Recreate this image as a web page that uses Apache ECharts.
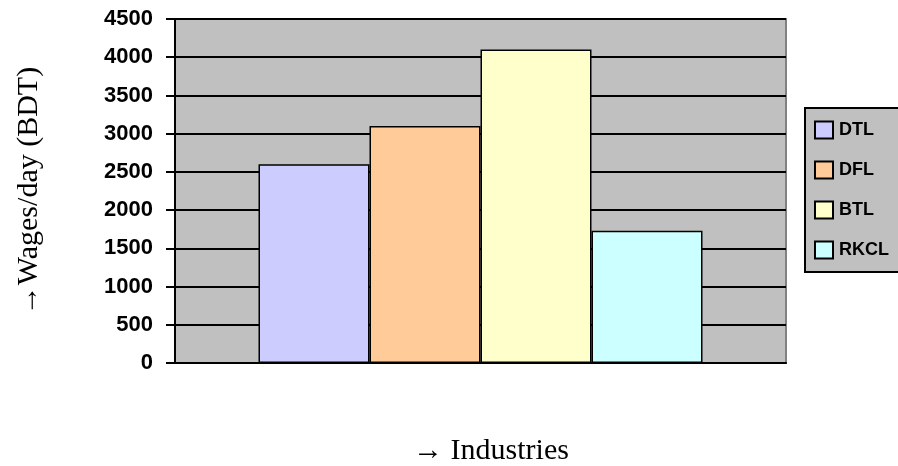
<!DOCTYPE html>
<html lang="en">
<head>
    <meta charset="UTF-8">
    <title>Wages per day</title>
    <style>
        html, body { margin: 0; padding: 0; background: #fff; }
        #main { width: 898px; height: 466px; }
    </style>
</head>
<body>
    <div id="main"></div>
    <script src="https://cdn.jsdelivr.net/npm/echarts@6/dist/echarts.min.js"></script>
    <script>
        // data
        var categories = ['Industries'];
        var seriesNames = ['DTL', 'DFL', 'BTL', 'RKCL'];
        var wages = [2600, 3100, 4100, 1730];
        var colors = ['#CCCCFF', '#FFCC99', '#FFFFCC', '#CCFFFF'];

        var myChart = echarts.init(document.getElementById('main'));

        var series = seriesNames.map(function (name, i) {
            return {
                name: name,
                type: 'bar',
                data: [wages[i]],
                barWidth: 111,
                barGap: '0%',
                itemStyle: { color: colors[i], borderColor: '#000', borderWidth: 1.5 }
            };
        });

        var option = {
            animation: false,
            grid: {
                left: 175, top: 19, width: 611, height: 344,
                outerBoundsMode: 'none',
                containLabel: false,
                show: true, backgroundColor: '#C0C0C0',
                borderColor: '#808080', borderWidth: 2
            },
            legend: {
                orient: 'vertical',
                left: 805, top: 108,
                data: seriesNames,
                icon: 'rect',
                backgroundColor: '#C0C0C0',
                borderColor: '#000', borderWidth: 2,
                padding: [11, 12, 11, 9],
                itemWidth: 18, itemHeight: 17, itemGap: 18,
                itemStyle: { borderColor: '#000', borderWidth: 2 },
                textStyle: {
                    fontFamily: 'Liberation Sans',
                    fontWeight: 'bold', fontSize: 18, lineHeight: 22, color: '#000',
                    padding: [0, 0, 0, 1]
                }
            },
            xAxis: {
                type: 'category',
                data: categories,
                axisLine: { lineStyle: { color: '#000', width: 2 } },
                axisTick: { length: 9, lineStyle: { color: '#000', width: 2 } },
                axisLabel: { show: false },
                name: '\u2192 Industries',
                nameLocation: 'middle',
                nameGap: 73,
                nameTextStyle: { fontFamily: 'Liberation Serif', fontSize: 30, color: '#000', padding: [0, 0, 0, 21] }
            },
            yAxis: {
                type: 'value',
                min: 0, max: 4500, interval: 500,
                axisLine: { show: true, lineStyle: { color: '#000', width: 2 } },
                axisTick: { show: true, length: 9, lineStyle: { color: '#000', width: 2 } },
                splitLine: { lineStyle: { color: '#000', width: 2 } },
                axisLabel: {
                    fontFamily: 'Liberation Sans', fontWeight: 'bold', fontSize: 22, color: '#000', margin: 22,
                    formatter: function (v) { return String(v); }
                },
                name: '\u2192Wages/day (BDT)',
                nameLocation: 'middle',
                nameRotate: 90,
                nameGap: 131,
                nameTextStyle: { fontFamily: 'Liberation Serif', fontSize: 30, color: '#000' }
            },
            series: series
        };
        myChart.setOption(option);
    </script>
</body>
</html>
